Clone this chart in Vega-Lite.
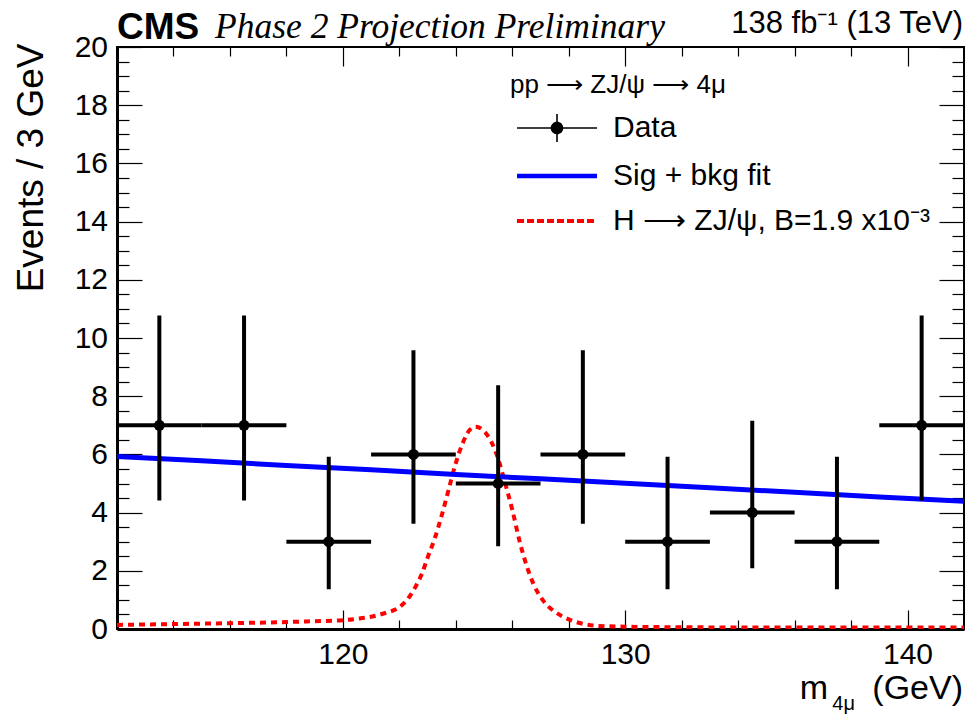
{
  "$schema": "https://vega.github.io/schema/vega-lite/v6.json",
  "width": 847,
  "height": 582,
  "autosize": {"type": "none"},
  "padding": {"left": 117, "top": 47, "right": 5, "bottom": 87},
  "background": "white",
  "config": {
    "view": {"stroke": "black", "strokeWidth": 2},
    "axis": {
      "grid": false,
      "labelFont": "Liberation Sans",
      "labelFontSize": 30,
      "labelColor": "black",
      "tickColor": "black",
      "tickWidth": 1.2,
      "domainColor": "black",
      "titleFont": "Liberation Sans",
      "titleColor": "black",
      "titleFontWeight": "normal"
    }
  },
  "datasets": {
    "bins": [
      {"m": 113.5, "x1": 112, "x2": 115, "n": 7, "lo": 4.42, "hi": 10.77},
      {"m": 116.5, "x1": 115, "x2": 118, "n": 7, "lo": 4.42, "hi": 10.77},
      {"m": 119.5, "x1": 118, "x2": 121, "n": 3, "lo": 1.37, "hi": 5.92},
      {"m": 122.5, "x1": 121, "x2": 124, "n": 6, "lo": 3.62, "hi": 9.58},
      {"m": 125.5, "x1": 124, "x2": 127, "n": 5, "lo": 2.84, "hi": 8.38},
      {"m": 128.5, "x1": 127, "x2": 130, "n": 6, "lo": 3.62, "hi": 9.58},
      {"m": 131.5, "x1": 130, "x2": 133, "n": 3, "lo": 1.37, "hi": 5.92},
      {"m": 134.5, "x1": 133, "x2": 136, "n": 4, "lo": 2.09, "hi": 7.16},
      {"m": 137.5, "x1": 136, "x2": 139, "n": 3, "lo": 1.37, "hi": 5.92},
      {"m": 140.5, "x1": 139, "x2": 142, "n": 7, "lo": 4.42, "hi": 10.77}
    ],
    "fit": [
      {"m": 112, "n": 5.93}, {"m": 115, "n": 5.78}, {"m": 118, "n": 5.62},
      {"m": 121, "n": 5.47}, {"m": 124, "n": 5.31}, {"m": 127, "n": 5.16},
      {"m": 130, "n": 5.01}, {"m": 133, "n": 4.85}, {"m": 136, "n": 4.7},
      {"m": 139, "n": 4.54}, {"m": 142, "n": 4.39}
    ],
    "sig": [
      {"m": 112, "n": 0.14}, {"m": 114, "n": 0.17}, {"m": 116, "n": 0.2},
      {"m": 118, "n": 0.24}, {"m": 119, "n": 0.27}, {"m": 120, "n": 0.3},
      {"m": 120.5, "n": 0.35}, {"m": 121, "n": 0.42}, {"m": 121.5, "n": 0.55},
      {"m": 122, "n": 0.75}, {"m": 122.35, "n": 1.1}, {"m": 122.6, "n": 1.5},
      {"m": 122.8, "n": 1.9}, {"m": 123, "n": 2.45}, {"m": 123.25, "n": 3.1},
      {"m": 123.5, "n": 3.9}, {"m": 123.75, "n": 4.8}, {"m": 124, "n": 5.7},
      {"m": 124.25, "n": 6.4}, {"m": 124.5, "n": 6.85}, {"m": 124.7, "n": 6.95},
      {"m": 125, "n": 6.8}, {"m": 125.25, "n": 6.45}, {"m": 125.5, "n": 5.85},
      {"m": 125.75, "n": 5.0}, {"m": 126, "n": 4.1}, {"m": 126.25, "n": 3.05},
      {"m": 126.5, "n": 2.2}, {"m": 126.75, "n": 1.55}, {"m": 127, "n": 1.1},
      {"m": 127.25, "n": 0.8}, {"m": 127.5, "n": 0.6}, {"m": 128, "n": 0.33},
      {"m": 128.5, "n": 0.18}, {"m": 129, "n": 0.11}, {"m": 130, "n": 0.08},
      {"m": 132, "n": 0.06}, {"m": 136, "n": 0.05}, {"m": 142, "n": 0.05}
    ],
    "one": [{}]
  },
  "resolve": {"axis": {"x": "independent", "y": "independent"}},
  "layer": [
    {
      "data": {"name": "sig"},
      "mark": {"type": "line", "strokeWidth": 4, "strokeDash": [6, 5], "interpolate": "monotone", "clip": true},
      "encoding": {
        "x": {
          "field": "m", "type": "quantitative",
          "scale": {"domain": [112, 142], "nice": false, "zero": false},
          "axis": {"orient": "bottom", "values": [120, 130, 140], "format": "d", "tickSize": -19, "labelPadding": 29, "domain": true, "domainWidth": 3, "title": null}
        },
        "y": {
          "field": "n", "type": "quantitative",
          "scale": {"domain": [0, 20], "nice": false, "zero": true},
          "axis": {
            "orient": "left", "values": [0, 2, 4, 6, 8, 10, 12, 14, 16, 18, 20], "format": "d",
            "tickSize": -25, "labelPadding": 34.5, "domain": true, "domainWidth": 3,
            "title": "Events / 3 GeV", "titleFontSize": 37, "titleAngle": 270,
            "titleAlign": "right", "titleBaseline": "alphabetic", "titleX": -75, "titleY": -4
          }
        },
        "color": {
          "datum": "H ⟶ ZJ/ψ, B=1.9 x10⁻³",
          "scale": {"domain": ["Data", "Sig + bkg fit", "H ⟶ ZJ/ψ, B=1.9 x10⁻³"], "range": ["black", "#0000ff", "#ff0000"]},
          "legend": {
            "title": "pp ⟶ ZJ/ψ ⟶ 4μ",
            "orient": "none",
            "legendX": 393,
            "legendY": 25,
            "padding": 0,
            "titleFont": "Liberation Sans",
            "titleFontSize": 26,
            "titleFontWeight": "normal",
            "titleColor": "black",
            "titleLimit": 500,
            "titlePadding": 15,
            "labelFont": "Liberation Sans",
            "labelFontSize": 30,
            "labelColor": "black",
            "labelLimit": 0,
            "symbolType": "M-4,0H4",
            "symbolSize": 400,
            "symbolStrokeWidth": 1.6,
            "symbolOffset": 32,
            "labelOffset": 41,
            "rowPadding": 15,
            "encode": {
              "symbols": {
                "update": {
                  "shape": {"signal": "datum.value === 'Data' ? 'M-4,0H4M0,-1.4V1.4M0.55,0A0.55,0.55,0,1,1,-0.55,0A0.55,0.55,0,1,1,0.55,0M0.4,0A0.4,0.4,0,1,1,-0.4,0A0.4,0.4,0,1,1,0.4,0M0.25,0A0.25,0.25,0,1,1,-0.25,0A0.25,0.25,0,1,1,0.25,0M0.1,0A0.1,0.1,0,1,1,-0.1,0A0.1,0.1,0,1,1,0.1,0' : (datum.value === 'Sig + bkg fit' ? 'M-4,-0.15H4M-4,-0.05H4M-4,0.05H4M-4,0.15H4' : 'M-4,-0.12H4M-4,-0.04H4M-4,0.04H4M-4,0.12H4')"},
                  "strokeDash": {"signal": "datum.value === 'Data' || datum.value === 'Sig + bkg fit' ? [1, 0] : [7, 3]"}
                }
              }
            }
          }
        }
      }
    },
    {
      "data": {"name": "fit"},
      "mark": {"type": "line", "strokeWidth": 5, "clip": true},
      "encoding": {
        "x": {
          "field": "m", "type": "quantitative",
          "scale": {"domain": [112, 142], "nice": false, "zero": false},
          "axis": {"orient": "bottom", "values": [114, 116, 118, 122, 124, 126, 128, 132, 134, 136, 138], "tickSize": -9, "labels": false, "domain": false, "title": null}
        },
        "y": {
          "field": "n", "type": "quantitative",
          "scale": {"domain": [0, 20], "nice": false, "zero": true},
          "axis": {"orient": "left", "values": [0.5, 1, 1.5, 2.5, 3, 3.5, 4.5, 5, 5.5, 6.5, 7, 7.5, 8.5, 9, 9.5, 10.5, 11, 11.5, 12.5, 13, 13.5, 14.5, 15, 15.5, 16.5, 17, 17.5, 18.5, 19, 19.5], "tickSize": -12, "labels": false, "domain": false, "title": null}
        },
        "color": {"datum": "Sig + bkg fit"}
      }
    },
    {
      "data": {"name": "bins"},
      "mark": {"type": "rule", "strokeWidth": 4},
      "encoding": {
        "x": {
          "field": "m", "type": "quantitative",
          "scale": {"domain": [112, 142], "nice": false, "zero": false},
          "axis": {"orient": "top", "values": [120, 130, 140], "tickSize": -19, "labels": false, "domain": false, "title": null}
        },
        "y": {
          "field": "lo", "type": "quantitative",
          "scale": {"domain": [0, 20], "nice": false, "zero": true},
          "axis": {"orient": "right", "values": [0, 2, 4, 6, 8, 10, 12, 14, 16, 18, 20], "tickSize": -25, "labels": false, "domain": false, "title": null}
        },
        "y2": {"field": "hi"},
        "color": {"datum": "Data"}
      }
    },
    {
      "data": {"name": "bins"},
      "mark": {"type": "rule", "strokeWidth": 4},
      "encoding": {
        "x": {
          "field": "x1", "type": "quantitative",
          "scale": {"domain": [112, 142], "nice": false, "zero": false},
          "axis": {"orient": "top", "values": [114, 116, 118, 122, 124, 126, 128, 132, 134, 136, 138], "tickSize": -9, "labels": false, "domain": false, "title": null}
        },
        "x2": {"field": "x2"},
        "y": {
          "field": "n", "type": "quantitative",
          "scale": {"domain": [0, 20], "nice": false, "zero": true},
          "axis": {"orient": "right", "values": [0.5, 1, 1.5, 2.5, 3, 3.5, 4.5, 5, 5.5, 6.5, 7, 7.5, 8.5, 9, 9.5, 10.5, 11, 11.5, 12.5, 13, 13.5, 14.5, 15, 15.5, 16.5, 17, 17.5, 18.5, 19, 19.5], "tickSize": -12, "labels": false, "domain": false, "title": null}
        },
        "color": {"datum": "Data"}
      }
    },
    {
      "data": {"name": "bins"},
      "mark": {"type": "point", "filled": true, "size": 120, "opacity": 1},
      "encoding": {
        "x": {"field": "m", "type": "quantitative", "scale": {"domain": [112, 142], "nice": false, "zero": false}, "axis": null},
        "y": {"field": "n", "type": "quantitative", "scale": {"domain": [0, 20], "nice": false, "zero": true}, "axis": null},
        "color": {"datum": "Data"}
      }
    },
    {
      "data": {"name": "one"},
      "mark": {"type": "text", "text": "CMS", "font": "Liberation Sans", "fontWeight": "bold", "fontSize": 37, "align": "left", "baseline": "alphabetic", "dy": -8, "color": "black"},
      "encoding": {
        "x": {"datum": 112, "type": "quantitative", "axis": null},
        "y": {"datum": 20, "type": "quantitative", "axis": null}
      }
    },
    {
      "data": {"name": "one"},
      "mark": {"type": "text", "text": "Phase 2 Projection Preliminary", "font": "Liberation Serif", "fontStyle": "italic", "fontSize": 35.5, "align": "left", "baseline": "alphabetic", "dx": 98, "dy": -9, "color": "black"},
      "encoding": {
        "x": {"datum": 112, "type": "quantitative", "axis": null},
        "y": {"datum": 20, "type": "quantitative", "axis": null}
      }
    },
    {
      "data": {"name": "one"},
      "mark": {"type": "text", "text": "138 fb⁻¹ (13 TeV)", "font": "Liberation Sans", "fontSize": 31, "align": "right", "baseline": "alphabetic", "dx": -1, "dy": -14, "color": "black"},
      "encoding": {
        "x": {"datum": 142, "type": "quantitative", "axis": null},
        "y": {"datum": 20, "type": "quantitative", "axis": null}
      }
    },
    {
      "data": {"name": "one"},
      "mark": {"type": "text", "text": "(GeV)", "font": "Liberation Sans", "fontSize": 34, "align": "right", "baseline": "alphabetic", "dx": -1, "dy": 70, "color": "black"},
      "encoding": {
        "x": {"datum": 142, "type": "quantitative", "axis": null},
        "y": {"datum": 0, "type": "quantitative", "axis": null}
      }
    },
    {
      "data": {"name": "one"},
      "mark": {"type": "text", "text": "4μ", "font": "Liberation Sans", "fontSize": 20, "align": "right", "baseline": "alphabetic", "dx": -109, "dy": 81, "color": "black"},
      "encoding": {
        "x": {"datum": 142, "type": "quantitative", "axis": null},
        "y": {"datum": 0, "type": "quantitative", "axis": null}
      }
    },
    {
      "data": {"name": "one"},
      "mark": {"type": "text", "text": "m", "font": "Liberation Sans", "fontSize": 34, "align": "right", "baseline": "alphabetic", "dx": -136, "dy": 70, "color": "black"},
      "encoding": {
        "x": {"datum": 142, "type": "quantitative", "axis": null},
        "y": {"datum": 0, "type": "quantitative", "axis": null}
      }
    }
  ]
}
